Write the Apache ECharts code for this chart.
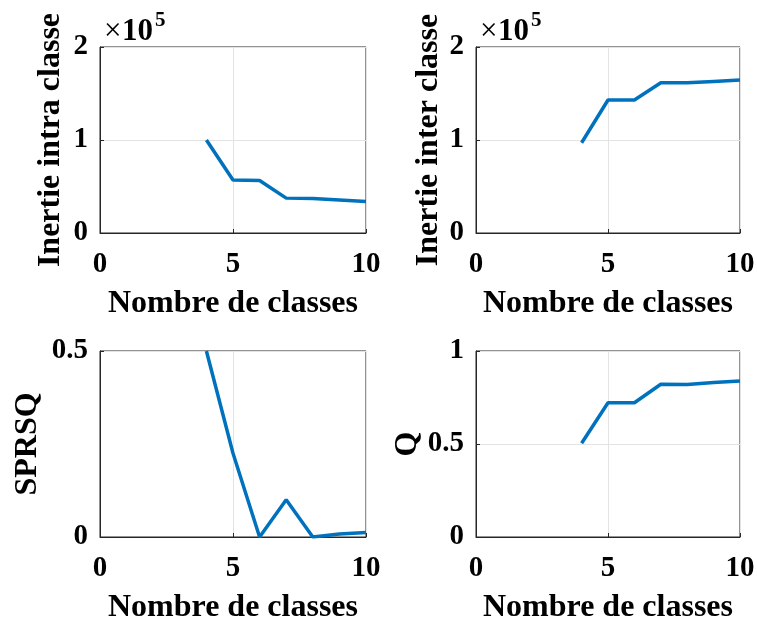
<!DOCTYPE html>
<html>
<head>
<meta charset="utf-8">
<script src="https://cdn.jsdelivr.net/npm/echarts@6/dist/echarts.min.js"></script>
<style>html,body{margin:0;padding:0;background:#fff}#c{width:757px;height:619px}</style>
</head>
<body>
<div id="c"></div>
<script>
// Data
var nbClasses = [4, 5, 6, 7, 8, 9, 10];
var inertieIntra = [100000, 57000, 56500, 37500, 37000, 35500, 34000];
var inertieInter = [97000, 143000, 143000, 161500, 161500, 163000, 164500];
var sprsq = [0.5, 0.225, 0.0, 0.1, 0.0, 0.008, 0.012];
var qValues = [0.504, 0.722, 0.722, 0.821, 0.82, 0.83, 0.839];
var xLabel = 'Nombre de classes';
var yLabels = ['Inertie intra classe', 'Inertie inter classe', 'SPRSQ', 'Q'];

var FONT = 'Liberation Serif';
var TICK = 29, NAME = 32;
var axisCol = '#262626';

function pairs(vals) { return nbClasses.map(function (x, i) { return [x, vals[i]]; }); }

var grids = [
  {left: 100, top: 47, width: 266, height: 186},
  {left: 476, top: 47, width: 264, height: 186},
  {left: 100, top: 351, width: 266, height: 186},
  {left: 476, top: 351, width: 264, height: 186}
];
grids.forEach(function (g) {
  g.show = true; g.borderColor = axisCol; g.borderWidth = 1; g.backgroundColor = '#fff';
  g.containLabel = false; g.outerBoundsMode = 'none';
});

function xAx(i) {
  return {
    type: 'value', gridIndex: i, min: 0, max: 10, interval: 5,
    name: xLabel, nameLocation: 'middle', nameGap: 55,
    nameTextStyle: {fontFamily: FONT, fontWeight: 'bold', fontSize: NAME, color: '#000'},
    axisLine: {show: true, onZero: false, lineStyle: {color: axisCol, width: 1}},
    axisTick: {show: true, inside: true, length: 4, lineStyle: {color: axisCol}},
    axisLabel: {fontFamily: FONT, fontWeight: 'bold', fontSize: TICK, color: '#000', margin: 17},
    splitLine: {show: true, lineStyle: {color: '#e3e3e3', width: 1}}
  };
}
function yAx(i, max, interval, gap, fmt) {
  return {
    type: 'value', gridIndex: i, min: 0, max: max, interval: interval,
    name: yLabels[i], nameLocation: 'middle', nameGap: gap, nameRotate: 90,
    nameTextStyle: {fontFamily: FONT, fontWeight: 'bold', fontSize: NAME, color: '#000'},
    axisLine: {show: true, lineStyle: {color: axisCol, width: 1}},
    axisTick: {show: true, inside: true, length: 4, lineStyle: {color: axisCol}},
    axisLabel: {fontFamily: FONT, fontWeight: 'bold', fontSize: TICK, color: '#000', margin: 12, formatter: fmt},
    splitLine: {show: true, lineStyle: {color: '#e3e3e3', width: 1}}
  };
}
var sci = function (v) { return String(v / 100000); };
var plain = function (v) { return String(v); };

function ser(i, vals) {
  return {type: 'line', xAxisIndex: i, yAxisIndex: i, data: pairs(vals), symbol: 'none',
    lineStyle: {color: '#0072BD', width: 3.5}, itemStyle: {color: '#0072BD'}, clip: true};
}

function expText(x) {
  return [
    {type: 'text', left: x, top: 16, style: {text: '×', fill: '#000', fontFamily: FONT, fontWeight: 'normal', fontSize: 31}},
    {type: 'text', left: x + 18, top: 16, style: {text: '10', fill: '#000', fontFamily: FONT, fontWeight: 'bold', fontSize: 31}},
    {type: 'text', left: x + 51, top: 10, style: {text: '5', fill: '#000', fontFamily: FONT, fontWeight: 'bold', fontSize: 21}}
  ];
}

var chart = echarts.init(document.getElementById('c'), null, {renderer: 'canvas'});
chart.setOption({
  animation: false,
  backgroundColor: '#fff',
  grid: grids,
  xAxis: [xAx(0), xAx(1), xAx(2), xAx(3)],
  yAxis: [
    yAx(0, 200000, 100000, 33, sci),
    yAx(1, 200000, 100000, 31, sci),
    yAx(2, 0.5, 0.5, 56, plain),
    yAx(3, 1, 0.5, 52, plain)
  ],
  series: [ser(0, inertieIntra), ser(1, inertieInter), ser(2, sprsq), ser(3, qValues)],
  graphic: expText(104).concat(expText(480))
});
</script>
</body>
</html>
